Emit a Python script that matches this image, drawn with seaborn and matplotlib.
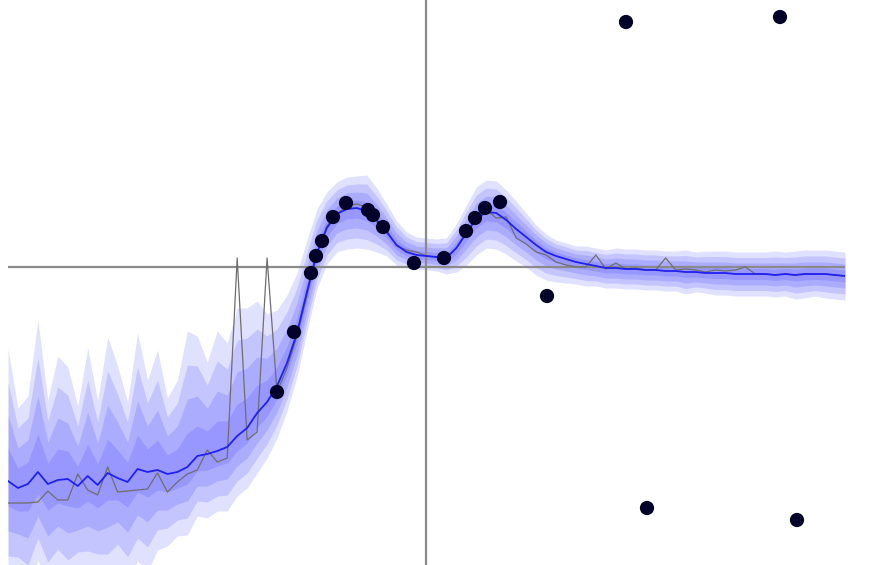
import numpy as np
import pandas as pd
import matplotlib
matplotlib.use("Agg")
import matplotlib.pyplot as plt
import seaborn as sns

# ---- data ----
x_start, x_end, n_pts = -4.18, 4.19, 85

mean_y = [-2.14, -2.21, -2.17, -2.05, -2.17, -2.13, -2.12, -2.19, -2.09, -2.18,
          -2.06, -2.11, -2.15, -2.02, -2.05, -2.03, -2.07, -2.05, -2.00, -1.89,
          -1.87, -1.84, -1.80, -1.69, -1.61, -1.46, -1.35, -1.19, -0.96, -0.66,
          -0.25, 0.14, 0.39, 0.53, 0.58, 0.59, 0.56, 0.47, 0.35, 0.22,
          0.15, 0.12, 0.11, 0.10, 0.09, 0.19, 0.34, 0.48, 0.55, 0.54,
          0.47, 0.38, 0.30, 0.22, 0.15, 0.11, 0.08, 0.05, 0.03, 0.01,
          -0.01, -0.01, -0.02, -0.02, -0.03, -0.03, -0.04, -0.04, -0.05, -0.05,
          -0.06, -0.06, -0.06, -0.07, -0.07, -0.07, -0.07, -0.08, -0.07, -0.08,
          -0.07, -0.07, -0.07, -0.08, -0.09]

gray_y = [-2.36, -2.36, -2.36, -2.35, -2.24, -2.33, -2.33, -2.07, -2.23, -2.28,
          -2.00, -2.25, -2.24, -2.23, -2.22, -2.06, -2.25, -2.15, -2.07, -2.03,
          -1.83, -1.95, -1.91, 0.09, -1.73, -1.65, 0.09, -1.25, -1.01, -0.69,
          -0.29, 0.13, 0.41, 0.53, 0.61, 0.63, 0.60, 0.45, 0.37, 0.21,
          0.17, 0.15, 0.11, 0.10, 0.10, 0.19, 0.34, 0.49, 0.57, 0.49,
          0.50, 0.29, 0.23, 0.15, 0.12, 0.05, 0.02, 0.00, 0.00, 0.12,
          -0.02, 0.04, -0.02, -0.01, -0.03, -0.03, 0.09, -0.03, -0.02, -0.03,
          -0.05, -0.03, -0.04, -0.03, 0.00, -0.07, -0.07, -0.08, -0.07, -0.08,
          -0.07, -0.07, -0.07, -0.08, -0.09]

spread_up = [0.33, 0.20, 0.22, 0.38, 0.21, 0.31, 0.28, 0.20, 0.32, 0.21,
             0.34, 0.28, 0.20, 0.34, 0.23, 0.30, 0.19, 0.23, 0.34, 0.30,
             0.23, 0.30, 0.26, 0.32, 0.30, 0.28, 0.22, 0.19, 0.17, 0.15,
             0.13, 0.11, 0.09, 0.08, 0.08, 0.08, 0.09, 0.08, 0.07, 0.06,
             0.05, 0.045, 0.045, 0.045, 0.05, 0.06, 0.07, 0.08, 0.08, 0.08,
             0.075, 0.07, 0.06, 0.05, 0.045, 0.04, 0.04, 0.04, 0.045, 0.045,
             0.045, 0.05, 0.05, 0.05, 0.05, 0.05, 0.05, 0.05, 0.055, 0.05,
             0.055, 0.055, 0.055, 0.055, 0.055, 0.055, 0.055, 0.06, 0.055, 0.06,
             0.06, 0.06, 0.06, 0.06, 0.06]

spread_lo = [0.25, 0.23, 0.27, 0.22, 0.26, 0.23, 0.27, 0.22, 0.25, 0.23,
             0.27, 0.22, 0.25, 0.23, 0.25, 0.20, 0.18, 0.16, 0.17, 0.15,
             0.16, 0.15, 0.16, 0.15, 0.15, 0.15, 0.14, 0.13, 0.12, 0.11,
             0.10, 0.09, 0.09, 0.095, 0.10, 0.10, 0.095, 0.08, 0.06, 0.05,
             0.04, 0.035, 0.035, 0.035, 0.04, 0.06, 0.08, 0.09, 0.09, 0.09,
             0.085, 0.08, 0.075, 0.075, 0.07, 0.065, 0.06, 0.055, 0.055, 0.05,
             0.05, 0.05, 0.05, 0.05, 0.05, 0.05, 0.05, 0.05, 0.055, 0.05,
             0.05, 0.055, 0.055, 0.055, 0.055, 0.055, 0.055, 0.055, 0.055, 0.06,
             0.06, 0.055, 0.06, 0.06, 0.06]

band_levels = [4, 3, 2, 1]

obs_x = [-1.49, -1.32, -1.15, -1.10, -1.04, -0.93, -0.80, -0.58, -0.53, -0.43,
         -0.12, 0.18, 0.40, 0.49, 0.59, 0.74, 1.21, 2.00, 3.54, 2.21, 3.71]
obs_y = [-1.25, -0.65, -0.06, 0.11, 0.26, 0.50, 0.64, 0.57, 0.52, 0.40,
         0.04, 0.09, 0.36, 0.49, 0.59, 0.65, -0.29, 2.45, 2.50, -2.41, -2.53]

# ---- plotting ----
sns.set_style("white")
x = np.linspace(x_start, x_end, n_pts)
df = pd.DataFrame({"x": x, "mean": mean_y, "gray": gray_y,
                   "su": spread_up, "sl": spread_lo})
obs = pd.DataFrame({"x": obs_x, "y": obs_y})

fig = plt.figure(figsize=(8.8, 5.65), dpi=100)
ax = fig.add_axes([8 / 880, 0, 837 / 880, 1])

for k in band_levels:
    ax.fill_between(df["x"], df["mean"] - k * df["sl"], df["mean"] + k * df["su"],
                    color=(0.0, 0.0, 1.0), alpha=0.12, linewidth=0, zorder=1)

ax.axhline(0, color="#8a8a8a", linewidth=1.6, zorder=2)
ax.axvline(0, color="#8a8a8a", linewidth=1.6, zorder=2)

sns.lineplot(data=df, x="x", y="gray", ax=ax, color="#6e6e6e", linewidth=0.9,
             zorder=3, sort=False)
sns.lineplot(data=df, x="x", y="mean", ax=ax, color="#2020f0", linewidth=1.3,
             zorder=4, sort=False)
sns.scatterplot(data=obs, x="x", y="y", ax=ax, color="#03032a", s=105,
                edgecolor="none", zorder=5)

ax.set_xlim(x_start, x_end)
ax.set_ylim(-2.98, 2.67)
ax.set_xticks([])
ax.set_yticks([])
ax.set_xlabel("")
ax.set_ylabel("")
for sp in ax.spines.values():
    sp.set_visible(False)

fig.savefig("out.png", dpi=100)
